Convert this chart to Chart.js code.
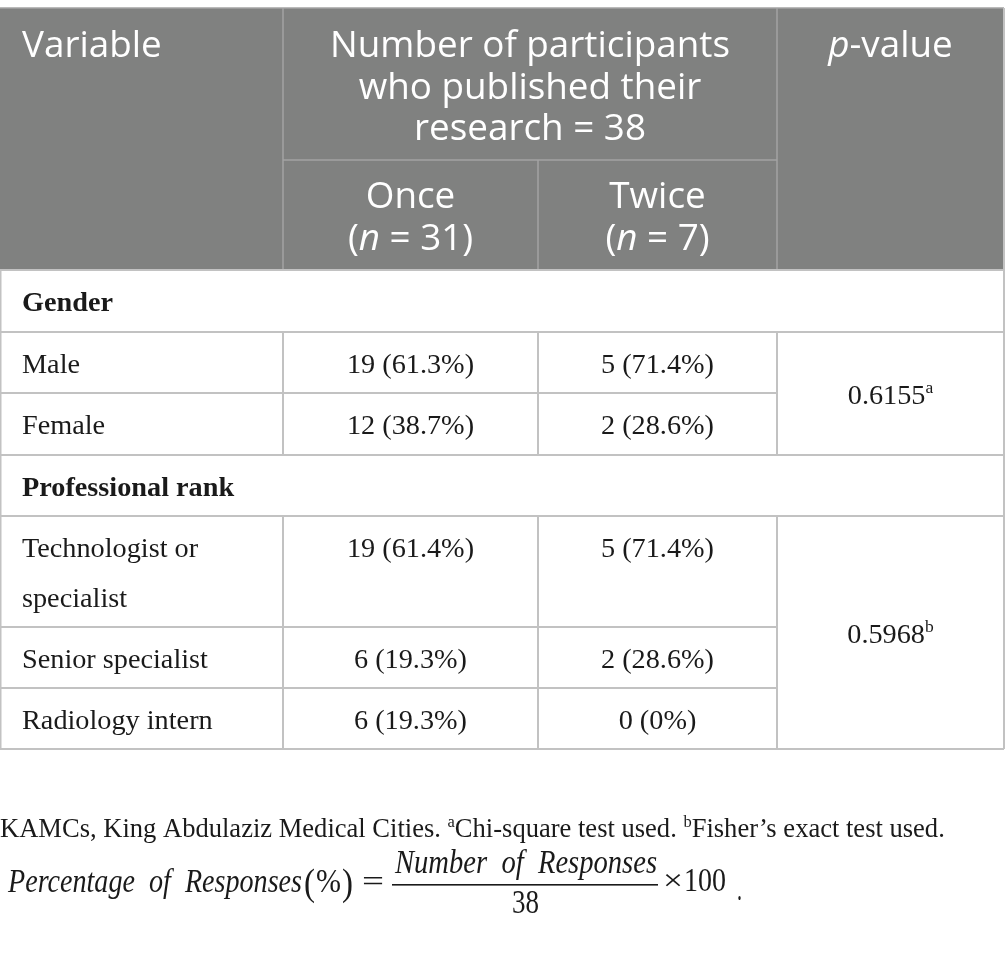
<!DOCTYPE html>
<html>
<head>
<meta charset="utf-8">
<script src="https://cdn.jsdelivr.net/npm/chart.js@4.4.1/dist/chart.umd.min.js"></script>
<style>
  html, body { margin: 0; padding: 0; background: #fff; }
  canvas { display: block; }
</style>
</head>
<body>
<canvas id="tableCanvas" width="1005" height="963"></canvas>
<script>
// Table content
const groups = ['Gender', 'Professional rank'];
const variables = ['Male', 'Female', 'Technologist or\nspecialist', 'Senior specialist', 'Radiology intern'];
const variableGroup = [0, 0, 1, 1, 1];
const onceCounts = [19, 12, 19, 6, 6];
const oncePct = [61.3, 38.7, 61.4, 19.3, 19.3];
const twiceCounts = [5, 2, 5, 2, 0];
const twicePct = [71.4, 28.6, 71.4, 28.6, 0];
const pValues = ['0.6155', '0.5968'];
const pTests = ['a', 'b'];
const groupSizes = [31, 7];
const totalPublished = 38;
const footnote = [
  { t: 'KAMCs, King Abdulaziz Medical Cities. ' },
  { t: 'a', sup: true }, { t: 'Chi-square test used. ' },
  { t: 'b', sup: true }, { t: 'Fisher\u2019s exact test used.' }
];

// Layout (canvas units, mapped through the hidden linear scales)
const colEdges = [0, 283, 538, 777, 1004];
const headTop = 8, headMid = 160, headBottom = 270;
// body rows: bottom edge of each row in order (group, vars..., group, vars...)
const rowBottoms = [332, 393, 455, 516, 627, 688, 749];
const headBg = '#808180';
const headLine = '#a3a3a3';
const gridLine = '#c2c2c2';
const ink = '#1a1a1a';
const sansFace = '"Open Sans", sans-serif';
const serifFace = '"Liberation Serif", "Times New Roman", serif';

function fmtCell(n, p) {
  return n + ' (' + (p === 0 ? '0' : p.toFixed(1)) + '%)';
}

function runFont(size, face, r) {
  const style = r.italic ? 'italic ' : '';
  const weight = r.bold ? 'bold ' : '';
  const s = r.sup ? size * 0.62 : size;
  return style + weight + s + 'px ' + face;
}

// draw a list of text runs; align 'left' or 'center'
function drawRuns(ctx, runs, x, y, size, face, align) {
  let total = 0;
  runs.forEach(r => { ctx.font = runFont(size, face, r); total += ctx.measureText(r.t).width; });
  let cx = align === 'center' ? x - total / 2 : x;
  ctx.textAlign = 'left';
  runs.forEach(r => {
    ctx.font = runFont(size, face, r);
    ctx.fillText(r.t, cx, r.sup ? y - size * 0.36 : y);
    cx += ctx.measureText(r.t).width;
  });
}

// draw text squeezed/stretched into a given width
function fitText(ctx, text, x, y, w, font) {
  ctx.font = font;
  const m = ctx.measureText(text).width;
  ctx.save();
  ctx.translate(x, y);
  ctx.scale(w / m, 1);
  ctx.textAlign = 'left';
  ctx.fillText(text, 0, 0);
  ctx.restore();
}

function calib(ctx, text, face, guess, target) {
  ctx.font = guess + 'px ' + face;
  return guess * target / ctx.measureText(text).width;
}

const tablePlugin = {
  id: 'tableDraw',
  afterDraw(chart) {
    const ctx = chart.ctx;
    const sx = v => chart.scales.x.getPixelForValue(v);
    const sy = v => chart.scales.y.getPixelForValue(v);
    const cx = i => (sx(colEdges[i]) + sx(colEdges[i + 1])) / 2;
    const hSize = calib(ctx, 'Number of participants', sansFace, 32, 400);
    const bSize = calib(ctx, 'Senior specialist', serifFace, 26, 186);
    const fSize = calib(ctx, footnote.map(r => r.t).join(''), serifFace, 26, 955);

    const line = (x1, y1, x2, y2) => {
      ctx.beginPath();
      ctx.moveTo(sx(x1), sy(y1));
      ctx.lineTo(sx(x2), sy(y2));
      ctx.stroke();
    };

    ctx.save();
    ctx.textBaseline = 'alphabetic';

    // header block
    ctx.fillStyle = headBg;
    ctx.fillRect(sx(colEdges[0]), sy(headTop), sx(colEdges[4]) - sx(colEdges[0]), sy(headBottom) - sy(headTop));
    ctx.strokeStyle = headLine;
    ctx.lineWidth = 1.5;
    line(colEdges[0], headTop, colEdges[4], headTop);
    line(colEdges[1], headTop, colEdges[1], headBottom);
    line(colEdges[3], headTop, colEdges[3], headBottom);
    line(colEdges[1], headMid, colEdges[3], headMid);
    line(colEdges[2], headMid, colEdges[2], headBottom);

    ctx.fillStyle = '#ffffff';
    drawRuns(ctx, [{ t: 'Variable' }], sx(colEdges[0] + 22), sy(headTop + 49), hSize, sansFace, 'left');
    const spanCx = (sx(colEdges[1]) + sx(colEdges[3])) / 2;
    ['Number of participants', 'who published their', 'research = ' + totalPublished].forEach((t, k) => {
      drawRuns(ctx, [{ t }], spanCx, sy(headTop + 49 + k * 41.5), hSize, sansFace, 'center');
    });
    drawRuns(ctx, [{ t: 'p', italic: true }, { t: '-value' }], cx(3), sy(headTop + 49), hSize, sansFace, 'center');
    ['Once', 'Twice'].forEach((t, k) => {
      drawRuns(ctx, [{ t }], cx(1 + k), sy(headMid + 48), hSize, sansFace, 'center');
      drawRuns(ctx, [{ t: '(' }, { t: 'n', italic: true }, { t: ' = ' + groupSizes[k] + ')' }],
        cx(1 + k), sy(headMid + 90), hSize, sansFace, 'center');
    });

    // body rows
    ctx.strokeStyle = gridLine;
    ctx.lineWidth = 2;
    let top = headBottom;
    let r = 0, vi = 0;
    const groupSpan = [];
    groups.forEach((g, gi) => {
      // group label row
      const gb = rowBottoms[r++];
      line(colEdges[0], gb, colEdges[4], gb);
      ctx.fillStyle = ink;
      drawRuns(ctx, [{ t: g, bold: true }], sx(colEdges[0] + 22), sy(top + 41), bSize, serifFace, 'left');
      top = gb;
      const spanTop = top;
      while (vi < variables.length && variableGroup[vi] === gi) {
        const bot = rowBottoms[r++];
        const lines = variables[vi].split('\n');
        lines.forEach((t, k) => {
          drawRuns(ctx, [{ t }], sx(colEdges[0] + 22), sy(top + 41 + k * 50), bSize, serifFace, 'left');
        });
        drawRuns(ctx, [{ t: fmtCell(onceCounts[vi], oncePct[vi]) }], cx(1), sy(top + 41), bSize, serifFace, 'center');
        drawRuns(ctx, [{ t: fmtCell(twiceCounts[vi], twicePct[vi]) }], cx(2), sy(top + 41), bSize, serifFace, 'center');
        line(colEdges[1], top, colEdges[1], bot);
        line(colEdges[2], top, colEdges[2], bot);
        line(colEdges[3], top, colEdges[3], bot);
        line(colEdges[0], bot, colEdges[3], bot);
        top = bot;
        vi++;
      }
      line(colEdges[0], top, colEdges[4], top);
      groupSpan.push([spanTop, top]);
    });
    // p-values spanning their group
    groupSpan.forEach(([a, b], gi) => {
      drawRuns(ctx, [{ t: pValues[gi] }, { t: pTests[gi], sup: true }],
        cx(3), (sy(a) + sy(b)) / 2 + 10, bSize, serifFace, 'center');
    });
    // outer borders
    line(colEdges[0] + 0.5, headBottom, colEdges[0] + 0.5, rowBottoms[rowBottoms.length - 1]);
    line(colEdges[4], headTop, colEdges[4], rowBottoms[rowBottoms.length - 1]);
    line(colEdges[0], headBottom, colEdges[4], headBottom);

    // footnote
    ctx.fillStyle = ink;
    drawRuns(ctx, footnote, sx(0), sy(837), fSize, serifFace, 'left');

    // formula
    const it = 'italic 33px ' + serifFace;
    const up = '33px ' + serifFace;
    const big = '38px ' + serifFace;
    fitText(ctx, 'Percentage  of  Responses', sx(8), sy(892), 294, it);
    fitText(ctx, '(', sx(304), sy(895), 11, big);
    fitText(ctx, '%', sx(316), sy(892), 25, up);
    fitText(ctx, ')', sx(342), sy(895), 11, big);
    fitText(ctx, '=', sx(362), sy(891), 22, '30px ' + serifFace);
    fitText(ctx, 'Number  of  Responses', sx(395), sy(873), 262, it);
    ctx.fillStyle = ink;
    ctx.fillRect(sx(392), sy(884), sx(658) - sx(392), 1.6);
    fitText(ctx, String(totalPublished), sx(512), sy(913), 27, up);
    fitText(ctx, '\u00d7', sx(663), sy(890), 20, '30px ' + serifFace);
    fitText(ctx, '100', sx(684), sy(891), 42, up);
    fitText(ctx, '.', sx(737), sy(900), 5, up);

    ctx.restore();
  }
};

const ctx = document.getElementById('tableCanvas').getContext('2d');
const tableChart = new Chart(ctx, {
  type: 'scatter',
  data: { datasets: [] },
  options: {
    responsive: false,
    animation: false,
    layout: { padding: 0 },
    plugins: { legend: { display: false }, tooltip: { enabled: false } },
    scales: {
      x: { type: 'linear', min: 0, max: 1005, display: false },
      y: { type: 'linear', min: 0, max: 963, reverse: true, display: false }
    }
  },
  plugins: [tablePlugin]
});
</script>
</body>
</html>
